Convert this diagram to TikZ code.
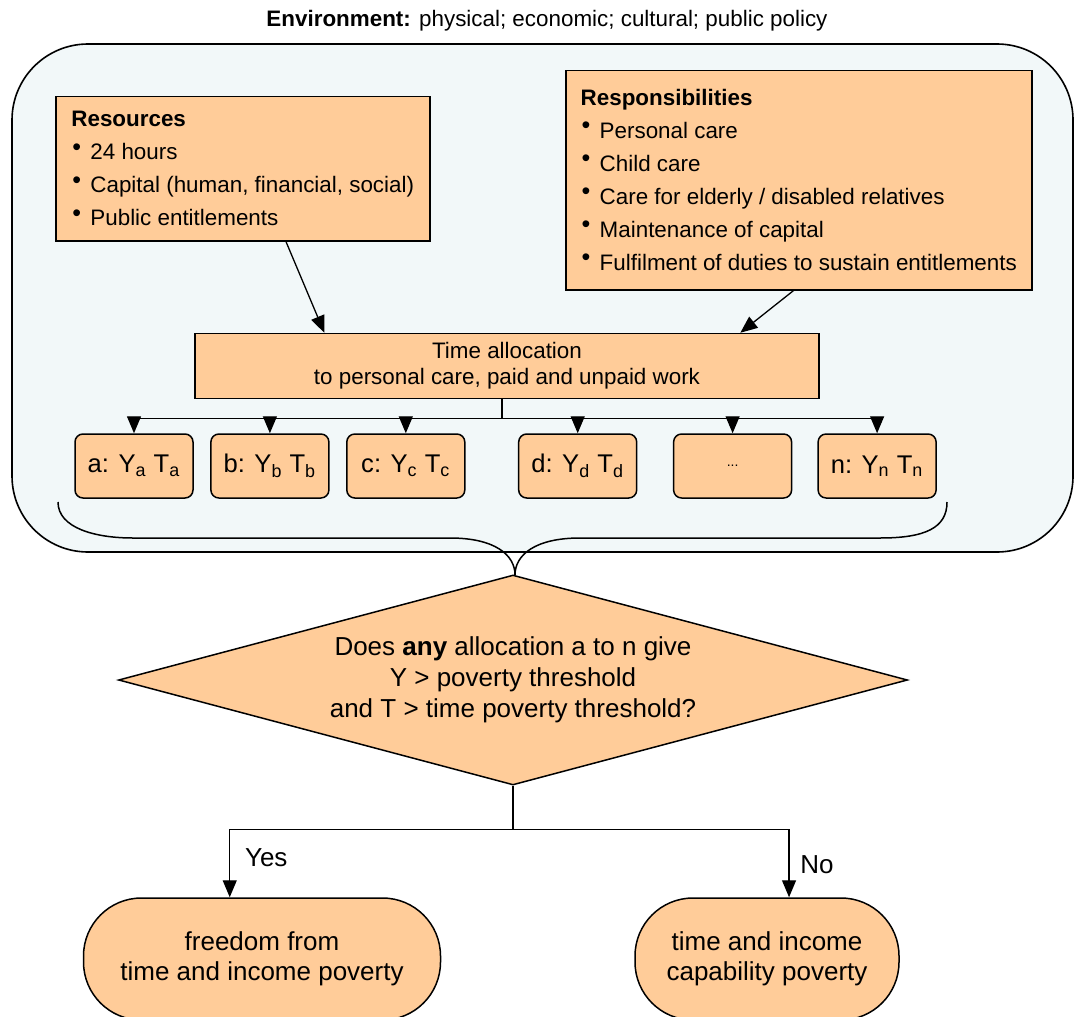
\documentclass[tikz,border=0pt]{standalone}
\usepackage{fontspec}
\setmainfont{Liberation Sans}
\usepackage{xcolor}
\usepackage{tikz}
\usetikzlibrary{shapes.geometric, arrows.meta, positioning, calc}

\definecolor{boxorange}{HTML}{FFCC99}
\definecolor{envblue}{HTML}{F2F8F9}

\newcommand{\bul}{\makebox[9.5pt][l]{\hspace{0.5pt}\raisebox{2.4pt}{\fontsize{12.5}{12.5}\selectfont\textbullet}}}

\begin{document}
\begin{tikzpicture}[
    x=0.5pt, y=-0.5pt,
    txt/.style={font=\fontsize{11.2}{13}\selectfont},
    box/.style={draw, line width=0.75pt, fill=boxorange, txt},
    listbox/.style={box, anchor=north west, align=left, font=\fontsize{11.2}{16.5}\selectfont},
    optbox/.style={box, rounded corners=4pt, minimum width=59pt, minimum height=32pt, inner sep=0pt, font=\fontsize{12.8}{15}\selectfont},
    endbox/.style={box, rounded corners=29pt, minimum height=61pt, align=center, font=\fontsize{13}{15}\selectfont},
    arr/.style={-{Triangle[length=8.5pt, width=7pt]}, line width=0.65pt},
    wire/.style={line width=0.65pt},
]
\clip (0,0) rectangle (1074,1016);

% ---- Environment ----
\node[txt] (envtitle) at (547,21) {\textbf{Environment:} physical; economic; cultural; public policy};
\draw[line width=0.8pt, fill=envblue, rounded corners=38pt] (12,44) rectangle (1073,552);

% ---- Inputs ----
\node[listbox, minimum width=187pt, minimum height=72pt] (res) at (55,96)
  {\textbf{Resources}\\\bul 24 hours\\\bul Capital (human, financial, social)\\\bul Public entitlements};
\node[listbox, minimum width=233pt, minimum height=109.5pt] (resp) at (565,70)
  {\textbf{Responsibilities}\\\bul Personal care\\\bul Child care\\\bul Care for elderly / disabled relatives\\\bul Maintenance of capital\\\bul Fulfilment of duties to sustain entitlements};

\node[box, minimum width=312pt, minimum height=32.5pt, align=center] (alloc) at (507,366)
  {Time allocation\\to personal care, paid and unpaid work};

\draw[arr] ($(res.south west)!0.615!(res.south east)$) -- ($(alloc.north west)!0.208!(alloc.north east)$);
\draw[arr] ($(resp.south west)!0.489!(resp.south east)$) -- ($(alloc.north west)!0.873!(alloc.north east)$);

% ---- Allocations ----
\node[optbox] (oa) at (134,466) {a: Y\textsubscript{a} T\textsubscript{a}};
\node[optbox, right=8.2pt of oa] (ob) {b: Y\textsubscript{b} T\textsubscript{b}};
\node[optbox, right=8.2pt of ob] (oc) {c: Y\textsubscript{c} T\textsubscript{c}};
\node[optbox, right=26.2pt of oc] (od) {d: Y\textsubscript{d} T\textsubscript{d}};
\node[optbox, right=17.7pt of od, font=\fontsize{7}{8}\selectfont] (odots) {...};
\node[optbox, right=12.5pt of odots] (on) {n: Y\textsubscript{n} T\textsubscript{n}};

\draw[wire] (alloc.south) ++(-5,0) -- ++(0,19) coordinate (split);
\draw[wire] (split -| oa) -- (split -| on);
\foreach \o in {oa,ob,oc,od,odots,on}
  \draw[arr] (split -| \o) -- (\o.north);

% brace
\draw[line width=0.75pt] (58,502) .. controls (58,528) and (95,538) .. (133,538) -- (450,538)
  .. controls (495,538) and (515,555) .. (515,575)
  .. controls (515,555) and (535,538) .. (580,538) -- (880,538)
  .. controls (925,538) and (947,528) .. (947,502);

% ---- Decision ----
\node[box, diamond, aspect=3.76, minimum width=394.5pt, minimum height=105pt, inner sep=0pt,
      align=center, font=\fontsize{13}{15.5}\selectfont] (ask) at (513,680)
  {Does \textbf{any} allocation a to n give\\Y > poverty threshold\\and T > time poverty threshold?};

\node[endbox, minimum width=178.5pt] (free) at (262,959) {freedom from\\time and income poverty};
\node[endbox, minimum width=132pt] (poor) at (767,959) {time and income\\capability poverty};

\draw[wire] (ask.south) -- ++(0,44) coordinate (fork);
\draw[arr] (fork) -| node[pos=0.71, right, xshift=4pt, font=\fontsize{13}{15}\selectfont] {Yes}
  ($(free.north west)!0.41!(free.north east)$);
\draw[arr] (fork) -| node[pos=0.76, right, xshift=2pt, font=\fontsize{13}{15}\selectfont] {No}
  ($(poor.north west)!0.583!(poor.north east)$);

\end{tikzpicture}
\end{document}
